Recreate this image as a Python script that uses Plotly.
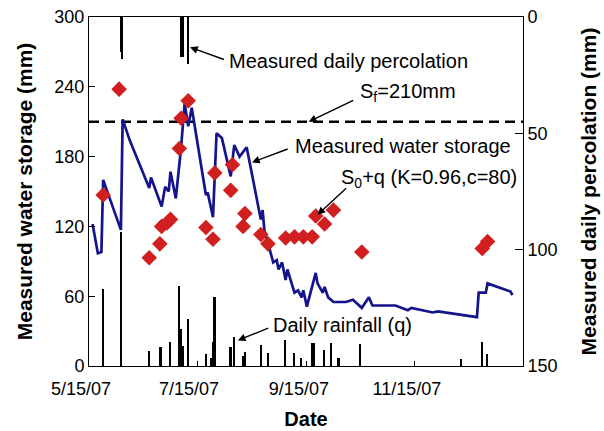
import plotly.graph_objects as go

# ---------------- data ----------------
storage_dates = [
    "2007-05-17", "2007-05-20", "2007-05-22", "2007-05-23", "2007-06-02", "2007-06-03",
    "2007-06-07", "2007-06-18", "2007-06-19", "2007-06-25", "2007-06-27", "2007-06-29",
    "2007-06-30", "2007-07-03", "2007-07-06", "2007-07-08", "2007-07-10", "2007-07-12",
    "2007-07-20", "2007-07-21", "2007-07-24", "2007-07-26", "2007-07-29", "2007-08-03",
    "2007-08-05", "2007-08-08", "2007-08-12", "2007-08-20", "2007-08-21", "2007-08-22",
    "2007-08-27", "2007-08-29", "2007-08-30", "2007-09-01", "2007-09-03", "2007-09-04",
    "2007-09-07", "2007-09-08", "2007-09-10", "2007-09-12", "2007-09-13", "2007-09-15",
    "2007-09-16", "2007-09-18", "2007-09-20", "2007-09-21", "2007-09-24", "2007-09-25",
    "2007-09-27", "2007-09-30", "2007-10-07", "2007-10-11", "2007-10-16", "2007-10-20",
    "2007-10-22", "2007-11-04", "2007-11-11", "2007-11-13", "2007-11-25", "2007-11-28",
    "2007-12-20", "2007-12-21", "2007-12-25", "2007-12-26", "2008-01-08", "2008-01-09",
]
storage_mm = [
    122, 97, 98, 160, 117, 212,
    194, 153, 162, 137, 154, 150,
    167, 144, 188, 226, 206, 222,
    147, 149, 128, 200, 196, 163,
    190, 180, 188, 126, 134, 117,
    89, 91, 83, 89, 74, 83,
    68, 63, 65, 59, 65, 51,
    57, 68, 80, 71, 63, 68,
    59, 55, 55, 57, 50, 59,
    52, 52, 48, 50, 46, 47,
    42, 63, 63, 71, 64, 61,
]

model_dates = [
    "2007-05-23", "2007-06-01", "2007-06-18", "2007-06-24", "2007-06-25", "2007-06-28",
    "2007-06-30", "2007-07-05", "2007-07-06", "2007-07-10", "2007-07-20", "2007-07-24",
    "2007-07-25", "2007-08-03", "2007-08-04", "2007-08-10", "2007-08-11", "2007-08-20",
    "2007-08-24", "2007-09-03", "2007-09-08", "2007-09-13", "2007-09-18", "2007-09-20",
    "2007-09-25", "2007-09-30", "2007-10-16", "2007-12-23", "2007-12-26",
]
model_mm = [
    147, 238, 93, 105, 120, 123,
    126, 187, 213, 228, 119, 109,
    166, 151, 173, 120, 131, 113,
    105, 110, 111, 111, 111, 129,
    122, 134, 98, 101, 107,
]

rain_dates = [
    "2007-05-23", "2007-06-02", "2007-06-18", "2007-06-24", "2007-06-25", "2007-06-30",
    "2007-07-05", "2007-07-06", "2007-07-07", "2007-07-10", "2007-07-20", "2007-07-23",
    "2007-07-24", "2007-07-25", "2007-08-03", "2007-08-05", "2007-08-10", "2007-08-11",
    "2007-08-20", "2007-08-24", "2007-09-03", "2007-09-08", "2007-09-12", "2007-09-18",
    "2007-09-19", "2007-09-25", "2007-09-29", "2007-10-03", "2007-10-15", "2007-12-11",
    "2007-12-23", "2007-12-26",
]
rain_mm = [
    66, 115, 13, 16, 16, 21,
    69, 32, 17, 40, 10, 7,
    21, 59, 16, 25, 9, 12,
    18, 11, 22, 11, 7, 20,
    20, 14, 20, 7, 19, 6,
    21, 10,
]

perc_dates = ["2007-06-02", "2007-06-03", "2007-07-06", "2007-07-07", "2007-07-10"]
perc_mm = [15, 18, 17, 17, 20]

SF = 210
x_range = ["2007-05-15", "2008-01-15"]
x_tickvals = ["2007-05-15", "2007-07-15", "2007-09-15", "2007-11-15"]
x_ticktext = ["5/15/07", "7/15/07", "9/15/07", "11/15/07"]
y_ticks = [0, 60, 120, 180, 240, 300]
y2_ticks = [0, 50, 100, 150]

DAY_MS = 86400000
FONT = "Liberation Sans, Arial, sans-serif"

fig = go.Figure()

fig.add_trace(go.Bar(x=rain_dates, y=rain_mm, width=[0.9 * DAY_MS] * len(rain_dates),
                     marker=dict(color="black", line=dict(width=0)), yaxis="y", showlegend=False))
fig.add_trace(go.Bar(x=perc_dates, y=perc_mm, width=[0.9 * DAY_MS] * len(perc_dates),
                     marker=dict(color="black", line=dict(width=0)), yaxis="y2", showlegend=False))
fig.add_trace(go.Scatter(x=x_range, y=[SF, SF], mode="lines",
                         line=dict(color="black", width=2.5, dash="10px,6px"),
                         showlegend=False, cliponaxis=False))
fig.add_trace(go.Scatter(x=storage_dates, y=storage_mm, mode="lines",
                         line=dict(color="#14148C", width=2.7), showlegend=False))
fig.add_trace(go.Scatter(x=model_dates, y=model_mm, mode="markers",
                         marker=dict(symbol="diamond", size=12, color="#D11F1F"),
                         showlegend=False))

annots = [
    dict(text="Measured daily percolation", tip=("2007-07-11", 274), tail=("2007-07-31", 263),
         pos=("2007-08-01", 262)),
    dict(text="S<sub>f</sub>=210mm", tip=("2007-09-16", SF), tail=("2007-10-12", 229),
         pos=("2007-10-14", 235)),
    dict(text="Measured water storage", tip=("2007-08-15", 175), tail=("2007-09-05", 187),
         pos=("2007-09-07", 189)),
    dict(text="S<sub>0</sub>+q (K=0.96,c=80)", tip=("2007-09-21", 130), tail=("2007-10-08", 154),
         pos=("2007-10-03", 161)),
    dict(text="Daily rainfall (q)", tip=("2007-08-07", 22), tail=("2007-08-25", 33),
         pos=("2007-08-26", 35)),
]
for a in annots:
    fig.add_annotation(x=a["pos"][0], y=a["pos"][1], text=a["text"], showarrow=False,
                       xanchor="left", yanchor="middle", xref="x", yref="y",
                       font=dict(family=FONT, size=20, color="black"))
    fig.add_annotation(x=a["tip"][0], y=a["tip"][1], ax=a["tail"][0], ay=a["tail"][1],
                       axref="x", ayref="y", xref="x", yref="y", text="",
                       showarrow=True, arrowhead=2, arrowsize=1.1, arrowwidth=1.4,
                       arrowcolor="black")

fig.update_layout(
    width=604, height=431,
    margin=dict(l=89, r=81, t=17, b=65),
    paper_bgcolor="white", plot_bgcolor="white",
    barmode="overlay", bargap=0,
    font=dict(family=FONT, color="black"),
    xaxis=dict(type="date", range=x_range, tickvals=x_tickvals, ticktext=x_ticktext,
               ticks="inside", ticklen=5, tickcolor="black", automargin=False,
               showline=True, linecolor="black", linewidth=1, mirror=True,
               showgrid=False, zeroline=False, ticklabelshift=-8, ticklabelstandoff=6,
               tickfont=dict(size=18),
               title=dict(text="<b>Date</b>", font=dict(size=20), standoff=14)),
    yaxis=dict(range=[0, 300], tickvals=y_ticks, ticks="inside", ticklen=6, tickcolor="black",
               showline=True, linecolor="black", linewidth=1, automargin=False,
               showgrid=False, zeroline=False, tickfont=dict(size=18),
               title=dict(text="<b>Measured water storage (mm)</b>", font=dict(size=21), standoff=16)),
    yaxis2=dict(range=[150, 0], tickvals=y2_ticks, overlaying="y", side="right",
                ticks="inside", ticklen=8, tickcolor="black", automargin=False,
                showline=True, linecolor="black", linewidth=1,
                showgrid=False, zeroline=False, tickfont=dict(size=18),
                title=dict(text="<b>Measured daily percolation (mm)</b>", font=dict(size=21), standoff=24)),
)

fig.write_html("out.html")
